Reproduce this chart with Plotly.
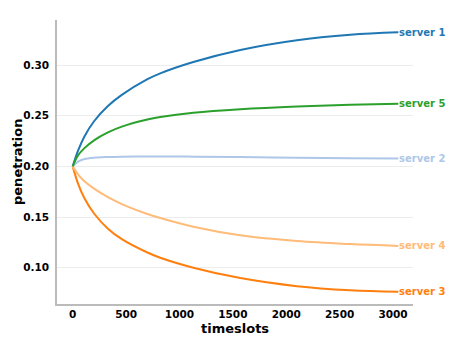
import plotly.graph_objects as go

timeslots = [0, 50, 110, 200, 330, 460, 700, 820, 1130, 1570, 2100, 2600, 3050]
server1 = [0.200, 0.2155, 0.2295, 0.2445, 0.2595, 0.2705, 0.2860, 0.2918, 0.3030, 0.3149, 0.3245, 0.3298, 0.3322]
server5 = [0.200, 0.2108, 0.2180, 0.2257, 0.2335, 0.2392, 0.2462, 0.2486, 0.2528, 0.2563, 0.2590, 0.2607, 0.2617]
server2 = [0.200, 0.2047, 0.2072, 0.2086, 0.2093, 0.2096, 0.2097, 0.2097, 0.2096, 0.2092, 0.2086, 0.2081, 0.2077]
server4 = [0.200, 0.1922, 0.1853, 0.1780, 0.1697, 0.1628, 0.1530, 0.1490, 0.1405, 0.1320, 0.1263, 0.1233, 0.1215]
server3 = [0.200, 0.1830, 0.1685, 0.1535, 0.1385, 0.1282, 0.1150, 0.1098, 0.1000, 0.0898, 0.0818, 0.0778, 0.0762]

series = [
    ("server 1", server1, "#1f77b4"),
    ("server 2", server2, "#aec7e8"),
    ("server 3", server3, "#ff7f0e"),
    ("server 4", server4, "#ffbb78"),
    ("server 5", server5, "#2ca02c"),
]

FONT = "DejaVu Sans"
fig = go.Figure()
for name, vals, col in series:
    fig.add_trace(go.Scatter(x=timeslots, y=vals, mode="lines", name=name,
                             line=dict(color=col, width=2, shape="spline", smoothing=1.0),
                             showlegend=False))
    fig.add_annotation(x=timeslots[-1], y=vals[-1], text=name, showarrow=False,
                       xanchor="left", yanchor="middle", xshift=-1,
                       font=dict(family=FONT, size=10, color=col, weight="bold"))

# axis titles placed as annotations for precise positioning
fig.add_annotation(x=0.5, y=0, xref="paper", yref="paper", text="timeslots", showarrow=False,
                   xanchor="center", yanchor="middle", yshift=-24,
                   font=dict(family=FONT, size=13, color="black", weight="bold"))
fig.add_annotation(x=0, y=0.5, xref="paper", yref="paper", text="penetration", showarrow=False,
                   textangle=-90, xanchor="center", yanchor="middle", xshift=-40,
                   font=dict(family=FONT, size=13, color="black", weight="bold"))

fig.update_layout(
    width=476, height=351,
    margin=dict(l=57, r=63, t=20, b=47),
    plot_bgcolor="white", paper_bgcolor="white",
    font=dict(family=FONT, color="black"),
)
fig.update_xaxes(range=[-147, 3187], tickvals=[0, 500, 1000, 1500, 2000, 2500, 3000],
                 showgrid=False, zeroline=False, showline=True, linecolor="#bbbbbb", linewidth=1.5,
                 ticks="",
                 tickfont=dict(family=FONT, size=10.5, color="black", weight="bold"))
fig.update_yaxes(range=[0.0642, 0.3444], tickvals=[0.10, 0.15, 0.20, 0.25, 0.30],
                 ticktext=["0.10", "0.15", "0.20", "0.25", "0.30"],
                 showgrid=True, gridcolor="#ececec", gridwidth=1, zeroline=False,
                 showline=True, linecolor="#bbbbbb", linewidth=1.5, ticks="",
                 ticklabelstandoff=4,
                 tickfont=dict(family=FONT, size=10.5, color="black", weight="bold"))

fig.write_html("out.html")
